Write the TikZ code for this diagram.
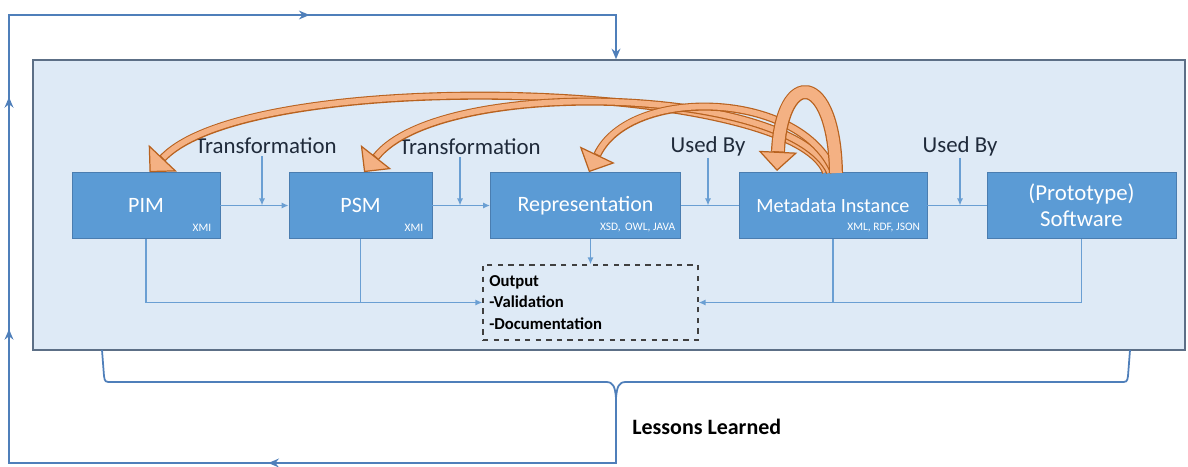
\documentclass[tikz,border=0pt]{standalone}
\usepackage{fontspec}
\setmainfont{Carlito}
\usetikzlibrary{arrows.meta,decorations.markings}
\definecolor{stageblue}{HTML}{5B9BD5}
\definecolor{stageedge}{HTML}{4A7DB0}
\definecolor{panelfill}{HTML}{DEEAF6}
\definecolor{paneledge}{HTML}{5C6F86}
\definecolor{flowblue}{HTML}{6A9FD3}
\definecolor{loopblue}{HTML}{4F7FBA}
\definecolor{orfill}{HTML}{F4B183}
\definecolor{oredge}{HTML}{B8621F}
\definecolor{labtext}{HTML}{1F2A3A}

\begin{document}
\begin{tikzpicture}[x = .02cm, y = -.02cm,
    stage/.style = {draw = stageedge, fill = stageblue, text = white, minimum height = 1.32cm, inner sep = 2pt, align = center, font = \fontsize{12.5}{15}\selectfont},
    tag/.style = {text = white, inner sep = 1pt, anchor = south east, font = \fontsize{6.5}{7}\selectfont},
    lab/.style = {text = labtext, inner sep = 1pt, font = \fontsize{13}{15}\selectfont},
    flow/.style = {flowblue, line width = .8pt},
    tip/.style = {-{Latex[length = 4pt, width = 3.5pt]}},
    loopline/.style = {loopblue, line width = 1.1pt},
    orout/.style = {oredge, line width = #1, -{Triangle[width = 22pt, length = 11pt, fill = orfill, line width = .7pt]}},
    orin/.style = {orfill, line width = #1, shorten > = 11.3pt}]
	\useasboundingbox (0,0) rectangle (1188,467);
	\node[draw = paneledge, fill = panelfill, line width = .9pt, minimum width = 23.04cm, minimum height = 5.8cm, inner sep = 0pt] (panel) at (609,205) {};
	\node[stage, minimum width = 2.96cm] (pim) at (146,205.5) {PIM};
	\node[stage, minimum width = 2.86cm] (psm) at (360.5,205.5) {PSM};
	\node[stage, minimum width = 3.8cm] (rep) at (585.5,205.5) {Representation};
	\node[stage, minimum width = 3.76cm, font = \fontsize{11.5}{14}\selectfont] (meta) at (833,205.5) {Metadata Instance};
	\node[stage, minimum width = 3.78cm, font = \fontsize{13}{15}\selectfont] (soft) at (1081.5,205.5) {(Prototype)\\Software};
	\node[tag] (pimtag) at ([xshift = -4pt, yshift = 3pt]pim.south east) {XMI};
	\node[tag] (psmtag) at ([xshift = -4pt, yshift = 3pt]psm.south east) {XMI};
	\node[tag] (reptag) at ([xshift = -2pt, yshift = 3pt]rep.south east) {XSD,\, OWL, JAVA};
	\node[tag] (metatag) at ([xshift = -3pt, yshift = 3pt]meta.south east) {XML, RDF, JSON};
	\node[draw = black!75, dashed, line width = .7pt, minimum width = 4.3cm, minimum height = 1.5cm, text width = 4.05cm, align = left, inner sep = 2pt, font = \fontsize{9.5}{12}\selectfont\bfseries] (outbox) at (590.5,302.5) {Output\\-Validation\\-Documentation};
	\node[lab] (tr1) at (266,146) {Transformation};
	\node[lab] (tr2) at (470,147) {Transformation};
	\node[lab] (used1) at (708,146) {Used By};
	\node[lab] (used2) at (960,146) {Used By};
	\node[anchor = west, inner sep = 0pt, font = \fontsize{12.5}{15}\selectfont\bfseries] (lessons) at (632,427) {Lessons Learned};
	\coordinate (m1) at (262,205.5);
	\coordinate (m2) at (460,205.5);
	\coordinate (m3) at (708,205.5);
	\coordinate (m4) at (960,205.5);
	\draw[flow, tip] (pim) -- (psm);
	\draw[flow, tip] (psm) -- (rep);
	\draw[flow] (rep) -- (meta);
	\draw[flow] (meta) -- (soft);
	\draw[flow, tip] (tr1.south -| m1) -- (m1);
	\draw[flow, tip] (tr2.south -| m2) -- (m2);
	\draw[flow, tip] (used1.south -| m3) -- (m3);
	\draw[flow, tip] (used2.south -| m4) -- (m4);
	\draw[flow, tip] (outbox.north |- rep.south) -- (outbox.north);
	\draw[flow] (psm.south) -- (psm.south |- outbox.west);
	\draw[flow, tip] (pim.south) |- (outbox.west);
	\draw[flow] (meta.south) -- (meta.south |- outbox.east);
	\draw[flow, tip] (soft.south) |- (outbox.east);
	\coordinate (bl) at (102,350);
	\coordinate (br) at (1130,350);
	\coordinate (bt) at (616,398);
	\coordinate (llbot) at (9,463);
	\coordinate (lltop) at (9,15);
	\draw[loopline, line width = 1pt] (bl) -- (104,376) .. controls (105,382) .. (112,382) -- (606,382) .. controls (613,382) and (615,386) .. (bt);
	\draw[loopline, line width = 1pt] (br) -- (1128,376) .. controls (1127,382) .. (1120,382) -- (626,382) .. controls (619,382) and (617,386) .. (bt);
	\draw[loopline, -{Stealth[length = 6pt, width = 5pt]}, postaction = {decorate}, decoration = {markings,
	    mark = at position .233 with {\arrow{Stealth[length = 6pt, width = 5pt]}},
	    mark = at position .455 with {\arrow{Stealth[length = 6pt, width = 5pt]}},
	    mark = at position .586 with {\arrow{Stealth[length = 6pt, width = 5pt]}},
	    mark = at position .802 with {\arrow{Stealth[length = 6pt, width = 5pt]}}}]
	    (bt) -- (bt |- llbot) -- (llbot) -- (lltop) -- (lltop -| bt) -- (panel.north -| bt);
	\coordinate (src1) at (826,172);
	\coordinate (src2) at (830,172);
	\coordinate (src3) at (834,172);
	\coordinate (src4) at (836,173);
	\coordinate (self) at (777,171);
	\draw[orout = 4.6pt] (src1) .. controls (790,80) and (250,66) .. ([xshift = 2pt]pim.north);
	\draw[orin = 3.2pt] (src1) .. controls (790,80) and (250,66) .. ([xshift = 2pt]pim.north);
	\draw[orout = 4.6pt] (src2) .. controls (790,86) and (440,76) .. ([xshift = 2pt]psm.north);
	\draw[orin = 3.2pt] (src2) .. controls (790,86) and (440,76) .. ([xshift = 2pt]psm.north);
	\draw[orout = 4.6pt] (src3) .. controls (800,90) and (630,86) .. ([xshift = 2pt]rep.north);
	\draw[orin = 3.2pt] (src3) .. controls (800,90) and (630,86) .. ([xshift = 2pt]rep.north);
	\draw[orout = 8pt] (src4) .. controls (834,70) and (782,68) .. (self);
	\draw[orin = 6.6pt] (src4) .. controls (834,70) and (782,68) .. (self);
\end{tikzpicture}
\end{document}
